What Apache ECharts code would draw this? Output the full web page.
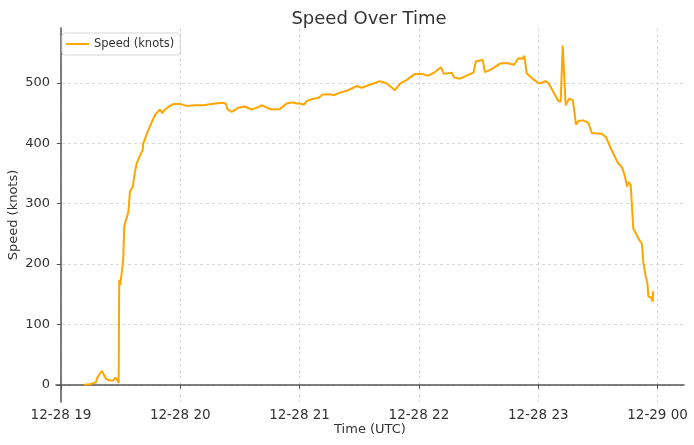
<!DOCTYPE html>
<html>
<head>
<meta charset="utf-8">
<script src="https://cdn.jsdelivr.net/npm/echarts@6/dist/echarts.min.js"></script>
<style>
  html, body { margin: 0; padding: 0; background: #fff; }
  #chart { width: 694px; height: 445px; }
</style>
</head>
<body>
<div id="chart"></div>
<script>
// minutes after 12-28 19:00 UTC
const minutes = [11.6, 14.6, 17.6, 18.3, 20.6, 21.3, 22.6, 24.6, 26.3, 27.3, 28.3, 29.0, 29.2, 29.3, 29.8,
  31.3, 31.8, 32.7, 33.9, 34.7, 36.1, 37.2, 38.1, 39.1, 39.7, 41.1, 41.4, 43.9, 47.3, 49.8, 51.0,
  52.3, 54.8, 56.5, 59.9, 63.2, 67.4, 71.6, 75.8, 80.8, 82.8, 83.8, 85.9, 89.2, 92.5, 95.9, 99.2,
  100.9, 103.5, 106.0, 110.1, 113.5, 116.8, 118.2, 120.2, 122.2, 123.6, 126.9, 129.4, 131.6, 135.3,
  137.3, 140.3, 143.7, 147.0, 148.7, 151.2, 155.4, 157.9, 160.4, 163.8, 168.0, 170.5, 173.9, 178.0,
  181.4, 184.7, 188.1, 191.0, 192.6, 196.5, 197.7, 200.7, 204.0, 207.4, 208.7, 212.1, 213.2, 216.6,
  220.8, 224.2, 227.8, 230.0, 232.2, 233.0, 234.2, 237.5, 240.1, 241.8, 243.4, 245.1, 247.6, 250.1,
  251.3, 252.3, 253.8, 255.6, 257.4, 259.0, 260.2, 262.7, 265.2, 266.9, 271.9, 274.1, 277.0, 280.3,
  282.0, 283.2, 284.8, 285.3, 286.5, 287.8, 289.5, 290.8, 292.1, 292.9, 294.1, 294.9, 295.4, 296.6,
  297.1, 297.6, 297.7];
const speeds = [0, 1, 4, 12, 23, 20, 10, 7, 7, 12, 8, 3, 2, 174, 165,
  207, 262, 265, 287, 320, 328, 353, 367, 375, 374, 389, 400, 422, 447, 456, 450,
  456, 462, 465, 465, 462, 463, 463, 465, 467, 466, 456, 452, 459, 461, 456, 460,
  463, 459, 456, 457, 466, 468, 466, 466, 464, 470, 474, 475, 481, 481,
  480, 484, 487, 492, 495, 492, 497, 500, 503, 499, 488, 499, 505, 515,
  515, 512, 518, 526, 515, 517, 509, 507, 512, 517, 536, 538, 518, 523,
  532, 533, 530, 541, 540, 545, 516, 506, 500, 500, 503, 500, 485, 470,
  469, 562, 463, 474, 471, 431, 437, 438, 434, 417, 416, 410, 388, 366,
  361, 350, 328, 336, 331, 259, 248, 240, 234, 201, 179, 168, 146, 145,
  144, 138, 155];
const xTicks = [0, 60, 120, 180, 240, 300];
const xTickLabels = ['12-28 19', '12-28 20', '12-28 21', '12-28 22', '12-28 23', '12-29 00'];
const yTicks = [0, 100, 200, 300, 400, 500];

const seriesData = minutes.map((m, i) => [m, speeds[i]]);

const chart = echarts.init(document.getElementById('chart'));
const txt = '#333';
const font = 'DejaVu Sans';
chart.setOption({
  animation: false,
  textStyle: { fontFamily: font },
  title: {
    text: 'Speed Over Time',
    left: 364, top: 5, textAlign: 'center',
    textStyle: { fontSize: 18, fontWeight: 'normal', color: txt, fontFamily: font }
  },
  legend: {
    left: 62, top: 33,
    data: ['Speed (knots)'],
    icon: 'rect', itemWidth: 23, itemHeight: 2, itemGap: 8,
    borderColor: '#d5d5d5', borderWidth: 1, borderRadius: 3,
    padding: [5, 6, 5, 4],
    textStyle: { fontSize: 11.5, color: txt, fontFamily: font }
  },
  grid: { left: 56, right: 10, top: 28, bottom: 43, outerBoundsMode: 'none', containLabel: false },
  xAxis: {
    type: 'value',
    min: -2.5, max: 313.3,
    name: 'Time (UTC)', nameLocation: 'middle', nameGap: 21, nameMoveOverlap: false,
    nameTextStyle: { fontSize: 13, color: txt, fontFamily: font },
    axisLine: { lineStyle: { color: '#555', width: 1.5 } },
    axisTick: { show: true, length: 4, inside: false, customValues: xTicks, lineStyle: { color: '#555' } },
    axisLabel: {
      customValues: xTicks, fontSize: 13.5, color: txt, margin: 6, fontFamily: font,
      formatter: v => xTickLabels[xTicks.indexOf(v)]
    },
    splitLine: { show: true, lineStyle: { color: '#d0d0d0', type: [3, 3], width: 0.8 } }
  },
  yAxis: {
    type: 'value',
    min: -28.5, max: 591,
    name: 'Speed (knots)', nameLocation: 'middle', nameGap: 36, nameMoveOverlap: false,
    nameTextStyle: { fontSize: 13, color: txt, fontFamily: font },
    axisLine: { show: true, lineStyle: { color: '#555', width: 1.5 } },
    axisTick: { show: true, length: 4, customValues: yTicks, lineStyle: { color: '#555' } },
    axisLabel: { customValues: yTicks, fontSize: 13, color: txt, margin: 6, fontFamily: font },
    splitLine: { show: true, lineStyle: { color: '#d0d0d0', type: [3, 3], width: 0.8 } }
  },
  series: [{
    name: 'Speed (knots)',
    type: 'line',
    data: seriesData,
    showSymbol: false,
    color: '#FFA500',
    lineStyle: { width: 2, color: '#FFA500' }
  }]
});
</script>
</body>
</html>
